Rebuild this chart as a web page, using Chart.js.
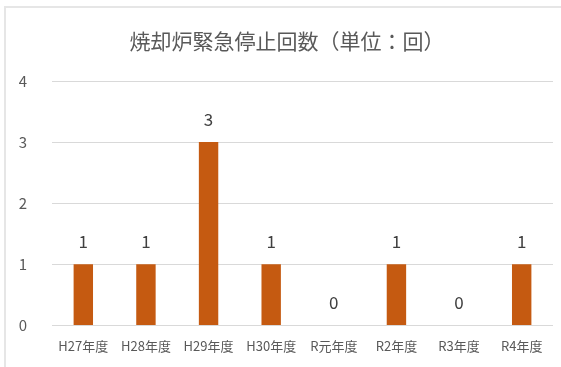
<!DOCTYPE html>
<html>
<head>
<meta charset="utf-8">
<script src="https://cdn.jsdelivr.net/npm/chart.js@4"></script>
<style>
  html, body { margin: 0; padding: 0; background: #fff; overflow: hidden; }
  #wrap { position: relative; width: 561px; height: 367px; overflow: hidden; }
  #frame {
    position: absolute; left: 4px; top: 6px; width: 600px; height: 400px;
    border-left: 2px solid #e6e6e6; border-top: 2px solid #e6e6e6;
  }
  #stopChart { position: absolute; left: 0; top: 0; }
</style>
</head>
<body>
<div id="wrap">
  <div id="frame"></div>
  <canvas id="stopChart" width="561" height="367"></canvas>
</div>
<script>
// --- data ---
const years = ['H27年度', 'H28年度', 'H29年度', 'H30年度', 'R元年度', 'R2年度', 'R3年度', 'R4年度'];
const stopCounts = [1, 1, 3, 1, 0, 1, 0, 1];
const yTicks = [0, 1, 2, 3, 4];
const chartTitle = '焼却炉緊急停止回数（単位：回）';

const FONT = '"Noto Sans CJK JP", "Noto Sans", sans-serif';

// value labels above each bar
const valueLabels = {
    id: 'valueLabels',
    afterDatasetsDraw(chart) {
        const ctx = chart.ctx;
        const meta = chart.getDatasetMeta(0);
        ctx.save();
        ctx.font = '17px ' + FONT;
        ctx.fillStyle = '#404040';
        ctx.textAlign = 'center';
        ctx.textBaseline = 'middle';
        meta.data.forEach((bar, i) => {
            ctx.fillText(String(stopCounts[i]), bar.x, bar.y - 23);
        });
        ctx.restore();
    }
};

// title sits a little right of the canvas centre, so draw it by hand
const titleText = {
    id: 'titleText',
    afterDraw(chart) {
        const ctx = chart.ctx;
        ctx.save();
        ctx.font = '21px ' + FONT;
        ctx.fillStyle = '#595959';
        ctx.textAlign = 'center';
        ctx.textBaseline = 'middle';
        ctx.fillText(chartTitle, 287, 41);
        ctx.restore();
    }
};

const ctx = document.getElementById('stopChart').getContext('2d');
new Chart(ctx, {
    type: 'bar',
    data: {
        labels: years,
        datasets: [{
            data: stopCounts,
            backgroundColor: '#C55A11',
            borderWidth: 0,
            barPercentage: 0.31,
            categoryPercentage: 1
        }]
    },
    options: {
        responsive: false,
        animation: false,
        layout: { padding: { left: 0, right: 8, top: 81, bottom: 0 } },
        scales: {
            y: {
                min: yTicks[0],
                max: yTicks[yTicks.length - 1],
                afterBuildTicks: (axis) => { axis.ticks = yTicks.map(v => ({ value: v })); },
                afterFit: (axis) => { axis.width = 52; },
                grid: { color: '#d9d9d9', lineWidth: 1, drawTicks: false },
                border: { display: false },
                ticks: { padding: 25, color: '#595959', font: { family: FONT, size: 15 } }
            },
            x: {
                grid: { display: false, drawTicks: false },
                border: { display: false },
                ticks: {
                    padding: 13, color: '#595959', maxRotation: 0, autoSkip: false,
                    font: { family: FONT, size: 13 }
                }
            }
        },
        plugins: {
            legend: { display: false },
            tooltip: { enabled: false },
            title: { display: false }
        }
    },
    plugins: [valueLabels, titleText]
});
</script>
</body>
</html>
